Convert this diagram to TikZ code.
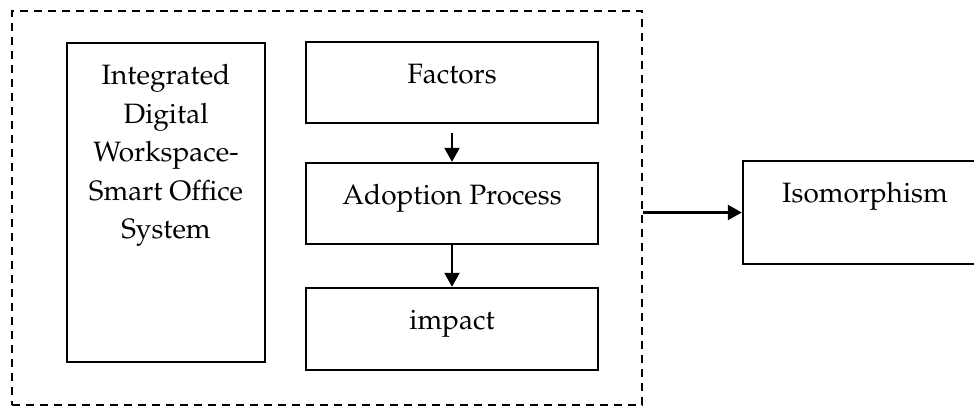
\documentclass[tikz,border=0pt]{standalone}
\usepackage[T1]{fontenc}
\usepackage{mathpazo}
\usetikzlibrary{arrows.meta,positioning,fit}

\tikzset{
  frame/.style={draw,line width=1.2pt,inner sep=0pt},
  caption/.style={font=\fontsize{14}{19.25}\selectfont,align=center,anchor=base,inner sep=0pt},
  flow/.style={-{Triangle[length=7pt,width=7.5pt]},line width=1.2pt},
}

\begin{document}
\begin{tikzpicture}[x=0.5pt,y=-0.5pt]

\useasboundingbox (0,0) rectangle (974,407);

% Dashed group
\node[frame,dash pattern=on 4pt off 3pt,fit={(12,11) (642,405)}] (group) {};

% Left box (base = last line)
\node[frame,fit={(67,43) (265,362)}] (system) {};
\node[caption] (system-txt) at ([yshift=-98.5pt]system.north)
  {Integrated\\Digital\\Workspace-\\Smart Office\\System};

% Middle column
\node[frame,fit={(306,42) (598,123)}]  (factors)  {};
\node[frame,fit={(306,163) (598,244)}] (adoption) {};
\node[frame,fit={(306,288) (598,370)}] (impact)   {};

\node[caption] (factors-txt)  at ([yshift=-21.5pt]factors.north)  {Factors};
\node[caption] (adoption-txt) at ([yshift=-21.5pt]adoption.north) {Adoption Process};
\node[caption] (impact-txt)   at ([yshift=-21.5pt]impact.north)   {impact};

% Right box (cut at the page edge)
\node[frame,fit={(743,161) (987,264)}] (iso) {};
\node[caption] (iso-txt) at ([yshift=-21.5pt]iso.north) {Isomorphism};

% Arrows
\draw[flow,shorten <=4.5pt] (factors) -- (adoption);
\draw[flow] (adoption) -- (impact);
\draw[flow] (iso.west -| group.east) -- (iso.west);

\end{tikzpicture}
\end{document}
